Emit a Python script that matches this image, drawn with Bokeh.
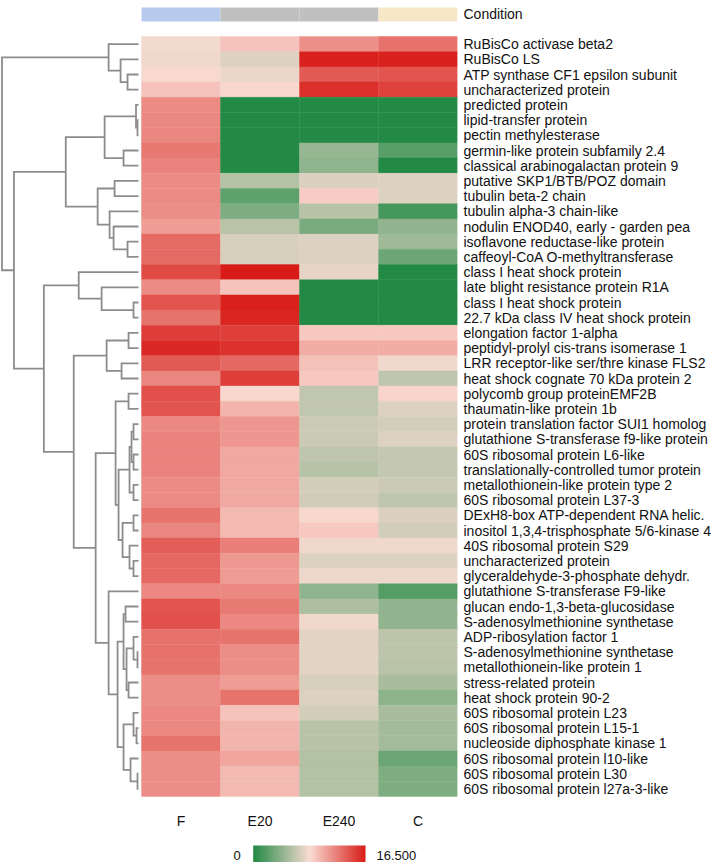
import numpy as np
from bokeh.plotting import figure
from bokeh.models import (Range1d, LinearAxis, FixedTicker, ColumnDataSource,
                          LinearColorMapper)
from bokeh.core.properties import value
from bokeh.embed import file_html
from bokeh.resources import INLINE

# ---------------- data ----------------
COLUMNS = ["F", "E20", "E240", "C"]
CONDITION = ["F", "E", "E", "C"]
CONDITION_COLORS = {"F": "#b7caee", "E": "#c0c0c0", "C": "#f8e7c7"}

PROTEINS = [
    "RuBisCo activase beta2", "RuBisCo LS", "ATP synthase CF1 epsilon subunit",
    "uncharacterized protein", "predicted protein", "lipid-transfer protein",
    "pectin methylesterase", "germin-like protein subfamily 2.4",
    "classical arabinogalactan protein 9", "putative SKP1/BTB/POZ domain",
    "tubulin beta-2 chain", "tubulin alpha-3 chain-like",
    "nodulin ENOD40, early - garden pea", "isoflavone reductase-like protein",
    "caffeoyl-CoA O-methyltransferase", "class I heat shock protein",
    "late blight resistance protein R1A", "class I heat shock protein",
    "22.7 kDa class IV heat shock protein", "elongation factor 1-alpha",
    "peptidyl-prolyl cis-trans isomerase 1", "LRR receptor-like ser/thre kinase FLS2",
    "heat shock cognate 70 kDa protein 2", "polycomb group proteinEMF2B",
    "thaumatin-like protein 1b", "protein translation factor SUI1 homolog",
    "glutathione S-transferase f9-like protein", "60S ribosomal protein L6-like",
    "translationally-controlled tumor protein", "metallothionein-like protein type 2",
    "60S ribosomal protein L37-3", "DExH8-box ATP-dependent RNA helic.",
    "inositol 1,3,4-trisphosphate 5/6-kinase 4", "40S ribosomal protein S29",
    "uncharacterized protein", "glyceraldehyde-3-phosphate dehydr.",
    "glutathione S-transferase F9-like", "glucan endo-1,3-beta-glucosidase",
    "S-adenosylmethionine synthetase", "ADP-ribosylation factor 1",
    "S-adenosylmethionine synthetase", "metallothionein-like protein 1",
    "stress-related protein", "heat shock protein 90-2",
    "60S ribosomal protein L23", "60S ribosomal protein L15-1",
    "nucleoside diphosphate kinase 1", "60S ribosomal protein l10-like",
    "60S ribosomal protein L30", "60S ribosomal protein l27a-3-like",
]

F = [8.0, 7.9, 8.4, 9.3, 11.7, 11.8, 11.9, 12.5, 12.0, 11.7,
     11.7, 11.6, 11.0, 13.1, 13.1, 14.5, 11.7, 14.0, 12.7, 15.0,
     15.9, 13.8, 11.9, 14.2, 14.0, 11.8, 12.0, 12.0, 12.0, 11.7,
     11.7, 12.7, 11.9, 13.6, 13.2, 13.2, 11.8, 14.0, 14.2, 12.8,
     12.8, 12.7, 11.6, 11.6, 11.8, 11.8, 12.7, 11.6, 11.6, 11.6]
E20 = [9.3, 7.2, 7.7, 8.5, 0.0, 0.0, 0.0, 0.0, 0.0, 5.6,
       2.3, 3.5, 5.8, 7.0, 6.9, 16.5, 9.3, 16.3, 16.0, 14.9,
       15.5, 13.2, 15.0, 8.5, 9.9, 11.2, 11.2, 10.5, 10.5, 10.4,
       10.4, 9.7, 9.7, 12.2, 11.1, 11.0, 11.8, 12.4, 11.8, 12.7,
       11.6, 11.6, 11.0, 12.7, 9.3, 9.9, 9.9, 10.6, 9.7, 9.7]
E240 = [11.5, 16.2, 13.8, 15.6, 0.0, 0.0, 0.0, 4.5, 4.2, 7.1,
        8.9, 5.7, 3.3, 7.2, 7.2, 7.5, 0.0, 0.0, 0.0, 9.1,
        10.3, 9.4, 9.1, 6.1, 6.1, 6.5, 6.5, 6.0, 5.7, 6.8,
        6.7, 8.5, 9.1, 7.9, 7.2, 7.8, 4.2, 5.4, 7.9, 7.4,
        7.4, 7.4, 7.0, 7.2, 6.8, 5.8, 5.8, 5.6, 5.6, 5.6]
C = [12.8, 16.2, 14.0, 14.8, 0.0, 0.0, 0.0, 2.0, 0.0, 7.2,
     7.2, 1.3, 4.3, 4.8, 2.9, 0.0, 0.0, 0.0, 0.0, 9.1,
     10.3, 7.9, 6.0, 8.6, 7.2, 6.8, 7.2, 6.2, 6.2, 6.5,
     6.0, 7.1, 6.8, 7.9, 7.2, 7.8, 1.9, 4.3, 4.3, 5.9,
     5.9, 5.8, 5.2, 4.1, 5.2, 4.9, 4.9, 2.9, 3.5, 3.5]

# hierarchical clustering merges: (child a, child b, height); ids >= 50 are earlier merges
LINKAGE = [
    (5, 6, 0.10), (4, 50, 0.25), (7, 8, 1.5), (51, 52, 3.4), (9, 10, 2.4),
    (13, 14, 1.1), (12, 55, 2.5), (11, 56, 2.9), (54, 57, 4.1), (53, 58, 7.3),
    (2, 3, 1.1), (1, 60, 1.8), (0, 61, 3.0), (17, 18, 0.5), (16, 63, 3.7),
    (15, 64, 6.0), (19, 20, 1.0), (21, 22, 1.7), (66, 67, 3.2), (23, 24, 1.0),
    (25, 26, 0.5), (27, 28, 0.5), (70, 71, 0.7), (29, 30, 0.5), (72, 73, 0.9),
    (31, 32, 0.5), (34, 35, 0.5), (33, 76, 0.9), (75, 77, 1.6), (74, 78, 2.0),
    (69, 79, 2.3), (37, 38, 1.3), (40, 41, 0.1), (39, 82, 0.5), (42, 43, 1.0),
    (83, 84, 1.2), (81, 85, 1.5), (45, 46, 0.2), (44, 87, 0.5), (48, 49, 0.1),
    (47, 89, 0.8), (88, 90, 1.5), (86, 91, 2.1), (36, 92, 3.0), (80, 93, 4.3),
    (68, 94, 6.5), (65, 95, 9.5), (59, 96, 12.5), (62, 97, 13.7),
]

VMIN, VMAX = 0.0, 16.5
SCALE_LABELS = ["0", "16.500"]

# ---------------- build ----------------
N = len(PROTEINS)
FONT = "Liberation Sans"

def hex2rgb(h):
    h = h.lstrip("#")
    return np.array([int(h[i:i + 2], 16) for i in (0, 2, 4)], dtype=float)

anchors = [hex2rgb("#238a45"), hex2rgb("#f9dcd3"), hex2rgb("#d81b17")]
palette = []
for t in np.linspace(0, 1, 256):
    if t <= 0.5:
        c = anchors[0] + (anchors[1] - anchors[0]) * (t / 0.5)
    else:
        c = anchors[1] + (anchors[2] - anchors[1]) * ((t - 0.5) / 0.5)
    palette.append("#%02x%02x%02x" % tuple(int(round(v)) for v in c))
mapper = LinearColorMapper(palette=palette, low=VMIN, high=VMAX)

series = {"F": F, "E20": E20, "E240": E240, "C": C}
xs, ys, vals = [], [], []
for j, col in enumerate(COLUMNS):
    for i in range(N):
        xs.append(j)
        ys.append(N - 1 - i)
        vals.append(series[col][i])
heat_src = ColumnDataSource(dict(x=xs, y=ys, v=vals))

PX_X = 79.0      # pixels per column
PX_Y = 15.2      # pixels per row
FRAME_W = 457
FRAME_H = 862
X_LEFT = -0.5 - 141 / PX_X
Y_TOP = N - 0.5 + 36 / PX_Y
Y_BOTTOM = Y_TOP - FRAME_H / PX_Y

p = figure(frame_width=FRAME_W, frame_height=FRAME_H,
           x_range=Range1d(X_LEFT, X_LEFT + FRAME_W / PX_X),
           y_range=Range1d(Y_BOTTOM, Y_TOP),
           x_axis_type=None, y_axis_type=None,
           output_backend="svg", toolbar_location=None,
           min_border_left=0, min_border_top=0,
           min_border_right=255, min_border_bottom=0,
           background_fill_color="white", border_fill_color="white")
p.outline_line_color = None

p.rect(x="x", y="y", width=1, height=1, source=heat_src,
       fill_color={"field": "v", "transform": mapper},
       line_color={"field": "v", "transform": mapper}, line_width=0.4)

# condition bar (top strip)
cond_top = Y_TOP - 7 / PX_Y
cond_bot = Y_TOP - 21 / PX_Y
p.quad(left=[j - 0.5 for j in range(len(COLUMNS))],
       right=[j + 0.5 for j in range(len(COLUMNS))],
       top=[cond_top] * len(COLUMNS), bottom=[cond_bot] * len(COLUMNS),
       fill_color=[CONDITION_COLORS[c] for c in CONDITION], line_color=None)

# dendrogram
LEAF_X = -0.5 - 3 / PX_X
SCALE = (LEAF_X - X_LEFT - 1.5 / PX_X) / max(h for _, _, h in LINKAGE)
def dx(h):
    return LEAF_X - h * SCALE

pos = {i: (0.0, float(N - 1 - i)) for i in range(N)}
mx, my = [], []
for k, (a, b, h) in enumerate(LINKAGE):
    ha, ya = pos[a]
    hb, yb = pos[b]
    mx.append([dx(ha), dx(h), dx(h), dx(hb)])
    my.append([ya, ya, yb, yb])
    pos[N + k] = (h, (ya + yb) / 2.0)
p.multi_line(mx, my, line_color="#8c8c8c", line_width=1.8, line_join="miter")

# right axis with row names and "Condition"
ticks = [N - 1 - i for i in range(N)]
overrides = {N - 1 - i: PROTEINS[i] for i in range(N)}
cond_y = int(round((cond_top + cond_bot) / 2))
ticks.append(cond_y)
overrides[cond_y] = "Condition"
ry = LinearAxis(ticker=FixedTicker(ticks=ticks), major_label_overrides=overrides)
ry.axis_line_color = None
ry.major_tick_line_color = None
ry.minor_tick_line_color = None
ry.major_tick_out = 0
ry.major_tick_in = 0
ry.major_label_standoff = 6
ry.major_label_text_font = FONT
ry.major_label_text_font_size = "14px"
ry.major_label_text_color = "#111111"
p.add_layout(ry, "right")

# column labels
col_y = -0.5 - 24 / PX_Y
p.text(x=list(range(len(COLUMNS))), y=[col_y] * len(COLUMNS), text=COLUMNS,
       text_align="center", text_baseline="middle",
       text_font=value(FONT), text_font_size="14px", text_color="#111111")

# colour scale bar
cb_x0 = -0.5 + (252.7 - 141) / PX_X
cb_x1 = -0.5 + (365 - 141) / PX_X
cb_top = -0.5 - (845 - 796) / PX_Y
cb_bot = Y_BOTTOM
grad = np.linspace(VMIN, VMAX, 256).reshape(1, -1)
p.image(image=[grad], x=cb_x0, y=cb_bot, dw=cb_x1 - cb_x0, dh=cb_top - cb_bot,
        color_mapper=mapper)
lab_y = -0.5 - (855 - 796) / PX_Y
p.text(x=[cb_x0 - 16 / PX_X], y=[lab_y], text=[SCALE_LABELS[0]],
       text_align="center", text_baseline="middle",
       text_font=value(FONT), text_font_size="13px", text_color="#111111")
p.text(x=[cb_x1 + 11 / PX_X], y=[lab_y], text=[SCALE_LABELS[1]],
       text_align="left", text_baseline="middle",
       text_font=value(FONT), text_font_size="13px", text_color="#111111")

open("out.html", "w").write(file_html(p, INLINE))
